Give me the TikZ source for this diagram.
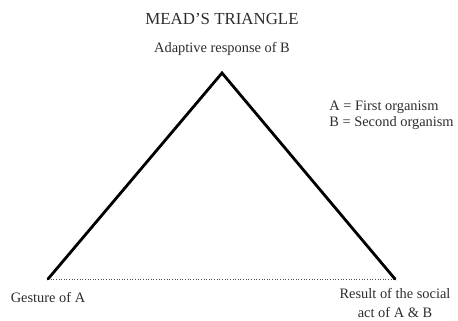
\documentclass[tikz,border=0pt]{standalone}
\usepackage{fontspec}
\setmainfont{Liberation Serif}
\usepackage{xcolor}
\usepackage{tikz}
\usetikzlibrary{positioning}
\definecolor{inkgray}{RGB}{45,45,45}
\tikzset{
  side/.style={line width=1.6pt, black, line cap=round, line join=miter},
  baseline dots/.style={densely dotted, line width=0.5pt, black!70},
  lbl/.style={inner sep=0pt, text=inkgray, font=\fontsize{8.2}{10.8}\selectfont},
  ttl/.style={inner sep=0pt, text=inkgray, font=\fontsize{9.6}{11}\selectfont}
}
\begin{document}
\begin{tikzpicture}
  \useasboundingbox (0,0) rectangle (9.16,6.4);
  % corners of the triangle
  \coordinate (apx) at (4.44,4.94);
  \coordinate (lft) at (0.96,0.82);
  \coordinate (rgt) at (7.90,0.82);
  \draw[baseline dots] (lft) -- (rgt);
  \draw[side] (lft) -- (apx) -- (rgt);

  % labels
  \node[lbl, above=0.34cm of apx] (adapt) {Adaptive response of B};
  \node[ttl] (title) at (4.44,6.02) {MEAD’S TRIANGLE};
  \node[lbl, below=0.26cm of lft] (gest) {Gesture of A};
  \node[lbl, align=center, below=0.18cm of rgt] (res) {Result of the social\\act of A \& B};

  % legend
  \node[lbl, anchor=west] (keyA) at (6.58,4.26) {A = First organism};
  \node[lbl, anchor=west] (keyB) at (6.58,3.94) {B = Second organism};
\end{tikzpicture}
\end{document}
